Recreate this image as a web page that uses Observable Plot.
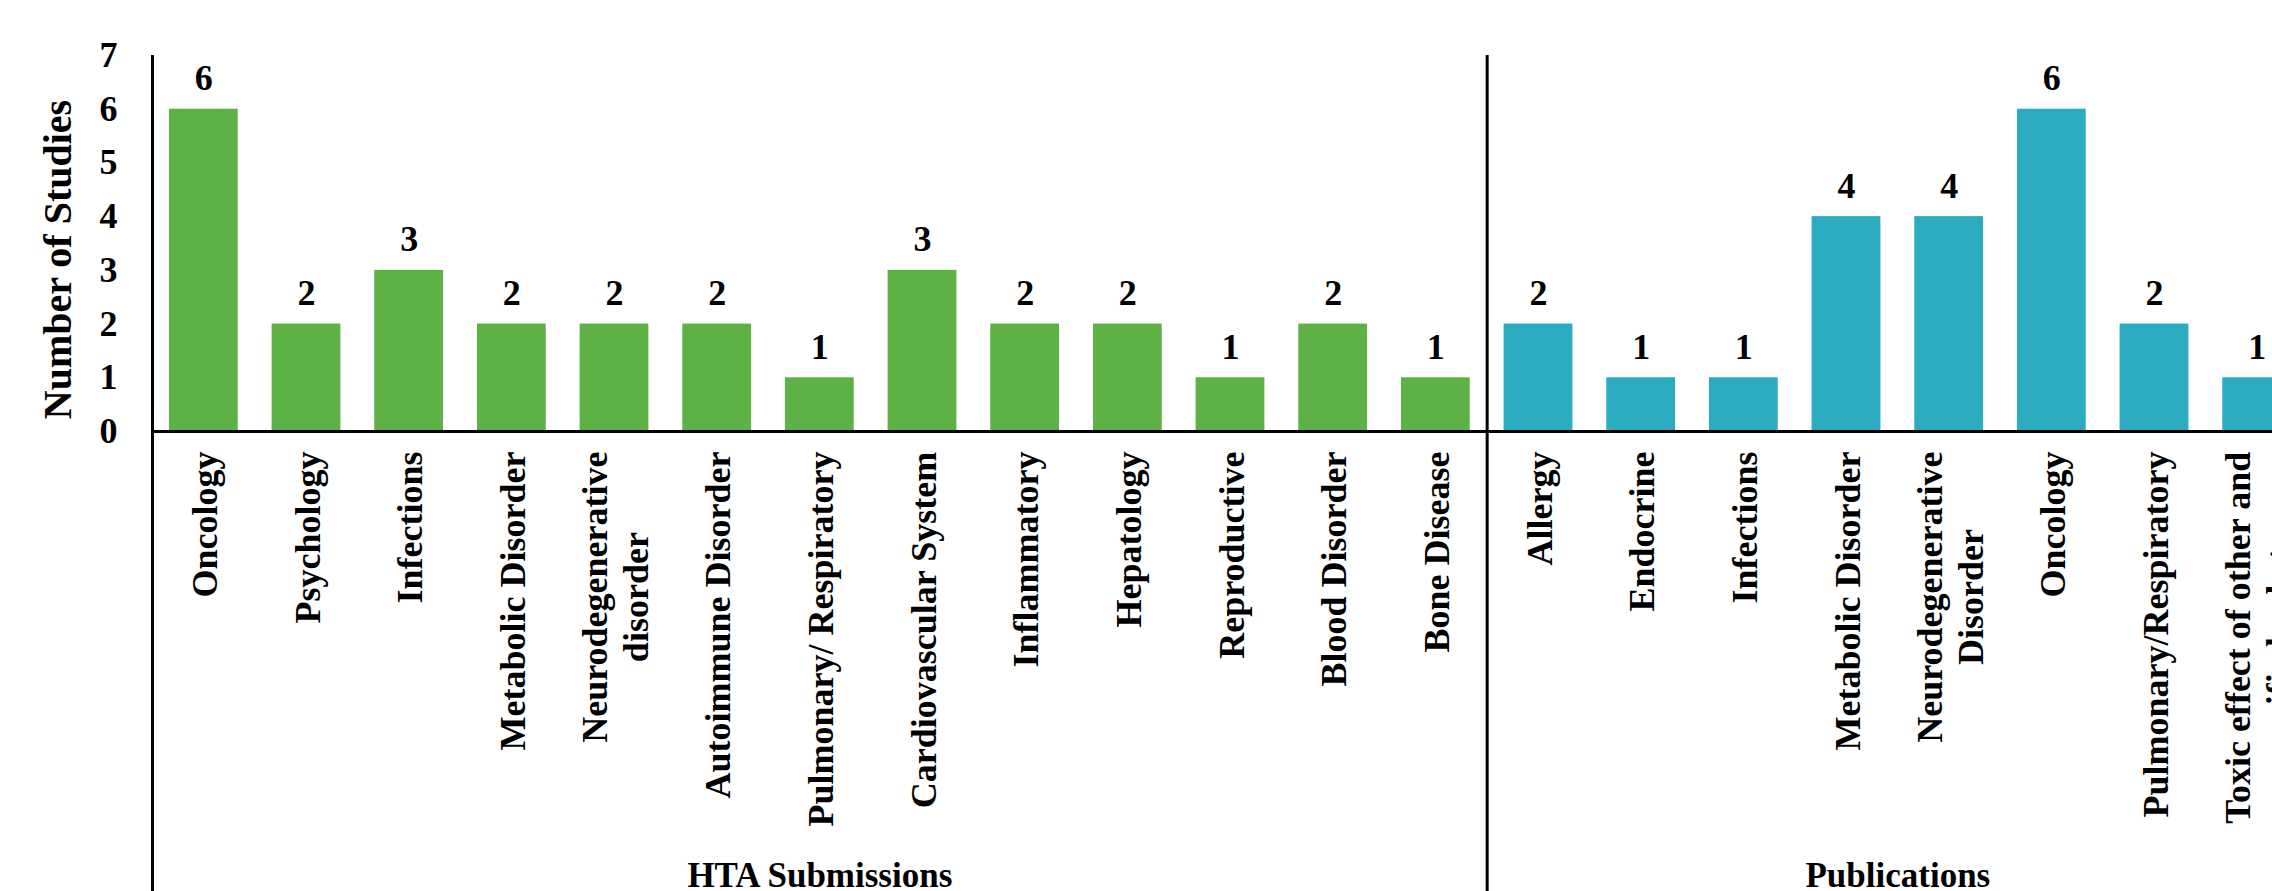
<!DOCTYPE html>
<html>
<head>
<meta charset="utf-8">
<script src="https://cdn.jsdelivr.net/npm/d3@7"></script>
<script src="https://cdn.jsdelivr.net/npm/@observablehq/plot@0.6"></script>
<style>
  html, body { margin: 0; padding: 0; background: #fff; overflow: hidden; }
</style>
</head>
<body>
<div id="chart"></div>
<script>
// Therapeutic areas covered by HTA submissions and by publications
const htaCategories = [
  "Oncology", "Psychology", "Infections", "Metabolic Disorder",
  "Neurodegenerative\ndisorder", "Autoimmune Disorder", "Pulmonary/ Respiratory",
  "Cardiovascular System", "Inflammatory", "Hepatology", "Reproductive",
  "Blood Disorder", "Bone Disease"
];
const htaCounts = [6, 2, 3, 2, 2, 2, 1, 3, 2, 2, 1, 2, 1];

const pubCategories = [
  "Allergy", "Endocrine", "Infections", "Metabolic Disorder",
  "Neurodegenerative\nDisorder", "Oncology", "Pulmonary/Respiratory",
  "Toxic effect of other and\nunspecified substances"
];
const pubCounts = [2, 1, 1, 4, 4, 6, 2, 1];

const groupNames = ["HTA Submissions", "Publications"];
const groupColors = ["#5DB145", "#2AABBF"];
const yTicks = [0, 1, 2, 3, 4, 5, 6, 7];
const yTitle = "Number of Studies";

// Layout
const W = 2310, H = 891;
const mTop = 55, mBottom = 460, mLeft = 152, mRight = 2;
const fontFamily = "'Liberation Serif', 'Times New Roman', serif";
const labelSize = 36;

const groups = [[htaCategories, htaCounts], [pubCategories, pubCounts]];
const rows = [];
groups.forEach(([cats, vals], g) => {
  cats.forEach((c, i) => rows.push({key: `${g}:${c}`, group: groupNames[g], label: c, value: vals[i]}));
});
const keys = rows.map(d => d.key);
const step = (W - mLeft - mRight) / keys.length;
const pxPerUnit = (H - mTop - mBottom) / (yTicks[yTicks.length - 1]);

// Category labels hang below the baseline, lines centred on each other
const ctx = document.createElement("canvas").getContext("2d");
ctx.font = `bold ${labelSize}px ${fontFamily}`;
const labelWidth = s => Math.max(...s.split("\n").map(l => ctx.measureText(l).width));
const labelGap = 20;
rows.forEach(d => { d.labelY = -(labelGap + labelWidth(d.label) / 2) / pxPerUnit; });

// Group titles under each block of categories
const groupTitleMarks = groups.map(([cats], g) => {
  const n = cats.length;
  const mid = `${g}:${cats[Math.floor((n - 1) / 2)]}`;
  return Plot.text([groupNames[g]], {
    x: () => mid,
    text: d => d,
    frameAnchor: "bottom",
    textAnchor: "middle",
    dx: n % 2 === 0 ? step / 2 : 0,
    dy: 455,
    lineAnchor: "bottom",
    fontSize: 35,
    fontWeight: "bold"
  });
});

const chart = Plot.plot({
  width: W,
  height: H,
  marginTop: mTop,
  marginBottom: mBottom,
  marginLeft: mLeft,
  marginRight: mRight,
  style: {
    fontFamily,
    fontWeight: "bold",
    background: "#fff",
    color: "#000",
    maxWidth: "none",
    overflow: "visible"
  },
  x: {domain: keys, paddingInner: 0.33, paddingOuter: 0.165, round: false, axis: null},
  y: {domain: [0, yTicks[yTicks.length - 1]], axis: null},
  color: {domain: groupNames, range: groupColors},
  marks: [
    Plot.barY(rows, {x: "key", y: "value", fill: "group"}),
    Plot.text(rows, {
      x: "key", y: "value", text: d => String(d.value),
      lineAnchor: "bottom", dy: -19, fontSize: 36, fontWeight: "bold", fill: "#000"
    }),
    Plot.text(rows, {
      x: "key", y: "labelY", text: "label",
      rotate: -90, textAnchor: "middle", lineAnchor: "middle",
      lineHeight: 1.14, fontSize: labelSize, fontWeight: "bold", fill: "#000"
    }),
    Plot.text(yTicks, {
      y: d => d, text: d => String(d),
      frameAnchor: "left", textAnchor: "end", dx: -35,
      fontSize: 36, fontWeight: "bold", fill: "#000"
    }),
    Plot.text([yTitle], {
      text: d => d, frameAnchor: "left", textAnchor: "middle", lineAnchor: "middle",
      rotate: -90, dx: -94, dy: 16, fontSize: 40, fontWeight: "bold", fill: "#000"
    }),
    ...groupTitleMarks,
    Plot.ruleY([0], {stroke: "#000", strokeWidth: 3}),
    Plot.ruleX([keys[0], keys[htaCategories.length]], {
      dx: -step / 2, insetBottom: -mBottom, stroke: "#000", strokeWidth: 3
    })
  ]
});

document.getElementById("chart").appendChild(chart);
</script>
</body>
</html>
